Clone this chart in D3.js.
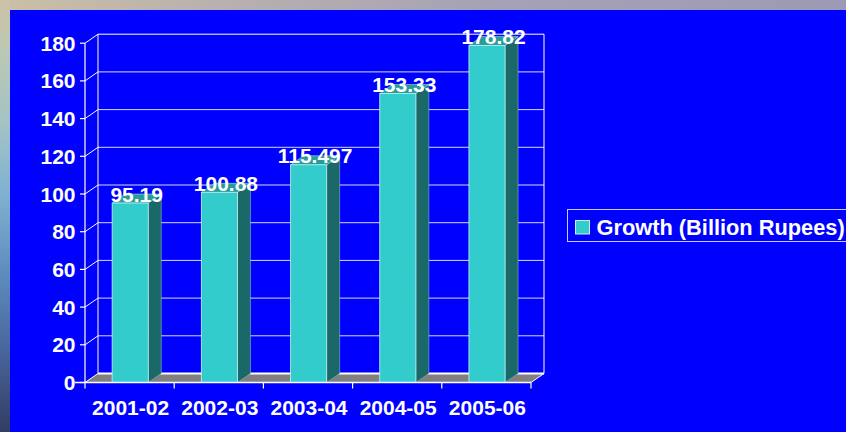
<!DOCTYPE html>
<html>
<head>
<meta charset="utf-8">
<script src="https://cdn.jsdelivr.net/npm/d3@7"></script>
<style>
  html, body { margin: 0; padding: 0; background: #0000ff; }
  svg { display: block; }
  text { font-family: "Liberation Sans", Arial, sans-serif; font-weight: bold; fill: #ffffff; }
</style>
</head>
<body>
<svg id="chart" width="846" height="432"></svg>
<script>
// Annual growth figures
const categories = ["2001-02", "2002-03", "2003-04", "2004-05", "2005-06"];
const values = [95.19, 100.88, 115.497, 153.33, 178.82];
const valueLabels = ["95.19", "100.88", "115.497", "153.33", "178.82"];
const yTicks = [0, 20, 40, 60, 80, 100, 120, 140, 160, 180];
const seriesName = "Growth (Billion Rupees)";

const svg = d3.select("#chart");
const W = 846, H = 432;

// Backdrop frame: textured strip along the top and left edge
const defs = svg.append("defs");
const gTop = defs.append("linearGradient").attr("id", "frameTop")
  .attr("x1", 0).attr("y1", 0).attr("x2", 1).attr("y2", 0);
[["0%", "#cbbfa6"], ["25%", "#b9b1ae"], ["60%", "#a5a1b6"], ["100%", "#9c9ab4"]]
  .forEach(([o, c]) => gTop.append("stop").attr("offset", o).attr("stop-color", c));
const gLeft = defs.append("linearGradient").attr("id", "frameLeft")
  .attr("x1", 0).attr("y1", 0).attr("x2", 0).attr("y2", 1);
[["0%", "#cdc2a8"], ["12%", "#bcc8b4"], ["30%", "#a0c2c6"], ["45%", "#7fb1d0"],
 ["62%", "#5f8fc0"], ["80%", "#4a68a0"], ["100%", "#333c62"]]
  .forEach(([o, c]) => gLeft.append("stop").attr("offset", o).attr("stop-color", c));

svg.append("rect").attr("x", 0).attr("y", 0).attr("width", W).attr("height", 10).attr("fill", "url(#frameTop)");
svg.append("rect").attr("x", 0).attr("y", 0).attr("width", 10).attr("height", H).attr("fill", "url(#frameLeft)");
svg.append("rect").attr("x", 10).attr("y", 10).attr("width", W - 10).attr("height", H - 10).attr("fill", "#0000ff");

// Plot geometry (front plane) and 3D depth offset
const x0 = 85, x1 = 531;
const depthX = 13, depthY = -9;

const x = d3.scaleBand().domain(categories).range([x0, x1]).paddingInner(0).paddingOuter(0);
const y = d3.scaleLinear().domain([0, 180]).range([382.5, 43.2]);

const g = svg.append("g");

// Floor
const yFloor = y(0);
g.append("path")
  .attr("d", `M${x0},${yFloor} L${x1},${yFloor} L${x1 + depthX},${yFloor + depthY} L${x0 + depthX},${yFloor + depthY} Z`)
  .attr("fill", "#808080");

// Back wall gridlines and side-wall diagonals
const gridColor = "#d8d8ff";
yTicks.forEach(t => {
  const yy = y(t);
  g.append("line")
    .attr("x1", x0 + depthX).attr("x2", x1 + depthX)
    .attr("y1", yy + depthY).attr("y2", yy + depthY)
    .attr("stroke", t === 0 || t === 180 ? "#ffffff" : gridColor)
    .attr("stroke-width", t === 0 ? 2 : 1);
  g.append("line")
    .attr("x1", x0).attr("x2", x0 + depthX)
    .attr("y1", yy).attr("y2", yy + depthY)
    .attr("stroke", "#ffffff").attr("stroke-width", 1);
});
// Wall edges
g.append("line").attr("x1", x0 + depthX).attr("x2", x0 + depthX)
  .attr("y1", y(0) + depthY).attr("y2", y(180) + depthY).attr("stroke", "#ffffff");
g.append("line").attr("x1", x1 + depthX).attr("x2", x1 + depthX)
  .attr("y1", y(0) + depthY).attr("y2", y(180) + depthY).attr("stroke", "#ffffff");
g.append("line").attr("x1", x1).attr("x2", x1 + depthX)
  .attr("y1", yFloor).attr("y2", yFloor + depthY).attr("stroke", "#ffffff");

// Bars
const barW = x.bandwidth() * 0.405;
const bars = g.selectAll("g.bar").data(values).join("g").attr("class", "bar");
bars.each(function (v, i) {
  const sel = d3.select(this);
  const bx = x(categories[i]) + (x.bandwidth() - barW) / 2 + 0.6;
  const top = y(v), base = y(0);
  // side face
  sel.append("path")
    .attr("d", `M${bx + barW},${top} L${bx + barW + depthX},${top + depthY} L${bx + barW + depthX},${base + depthY} L${bx + barW},${base} Z`)
    .attr("fill", "#1a6868").attr("stroke", "#7fb8c8").attr("stroke-width", 0.6);
  // top face
  sel.append("path")
    .attr("d", `M${bx},${top} L${bx + depthX},${top + depthY} L${bx + barW + depthX},${top + depthY} L${bx + barW},${top} Z`)
    .attr("fill", "#299c98").attr("stroke", "#a0e0e0").attr("stroke-width", 0.6);
  // front face
  sel.append("rect")
    .attr("x", bx).attr("y", top).attr("width", barW).attr("height", base - top)
    .attr("fill", "#33cccc").attr("stroke", "#c8f0f0").attr("stroke-width", 0.8);
  // value label
  sel.append("text")
    .attr("x", bx + (barW + depthX) / 2).attr("y", top - 1.5)
    .attr("text-anchor", "middle").attr("font-size", 21)
    .text(valueLabels[i]);
});

// Y axis (front edge)
g.append("line").attr("x1", x0).attr("x2", x0).attr("y1", y(0)).attr("y2", y(180))
  .attr("stroke", "#ffffff").attr("stroke-width", 1.2);
yTicks.forEach(t => {
  g.append("line").attr("x1", x0 - 5).attr("x2", x0).attr("y1", y(t)).attr("y2", y(t))
    .attr("stroke", "#ffffff").attr("stroke-width", 1.2);
  g.append("text").attr("x", 75.5).attr("y", y(t)).attr("dy", "0.36em")
    .attr("text-anchor", "end").attr("font-size", 21).text(t);
});

// X axis (front floor edge)
g.append("line").attr("x1", x0 - 10).attr("x2", x1).attr("y1", yFloor).attr("y2", yFloor)
  .attr("stroke", "#ffffff").attr("stroke-width", 1.5);
const xTickPos = categories.map(c => x(c)).concat([x1]);
xTickPos.forEach(px => {
  g.append("line").attr("x1", px).attr("x2", px).attr("y1", yFloor).attr("y2", yFloor + 6)
    .attr("stroke", "#ffffff").attr("stroke-width", 1.2);
});
categories.forEach(c => {
  g.append("text").attr("x", x(c) + x.bandwidth() / 2 + 1).attr("y", 415)
    .attr("text-anchor", "middle").attr("font-size", 21).text(c);
});

// Legend
const lg = svg.append("g");
lg.append("rect").attr("x", 567.5).attr("y", 209.5).attr("width", 290).attr("height", 32)
  .attr("fill", "none").attr("stroke", "#c8c8ff").attr("stroke-width", 1);
lg.append("rect").attr("x", 575.5).attr("y", 220.5).attr("width", 14).attr("height", 13.5)
  .attr("fill", "#33cccc").attr("stroke", "#c8f0f0").attr("stroke-width", 1);
lg.append("text").attr("x", 596.5).attr("y", 234.5).attr("font-size", 21.8).text(seriesName);
</script>
</body>
</html>
